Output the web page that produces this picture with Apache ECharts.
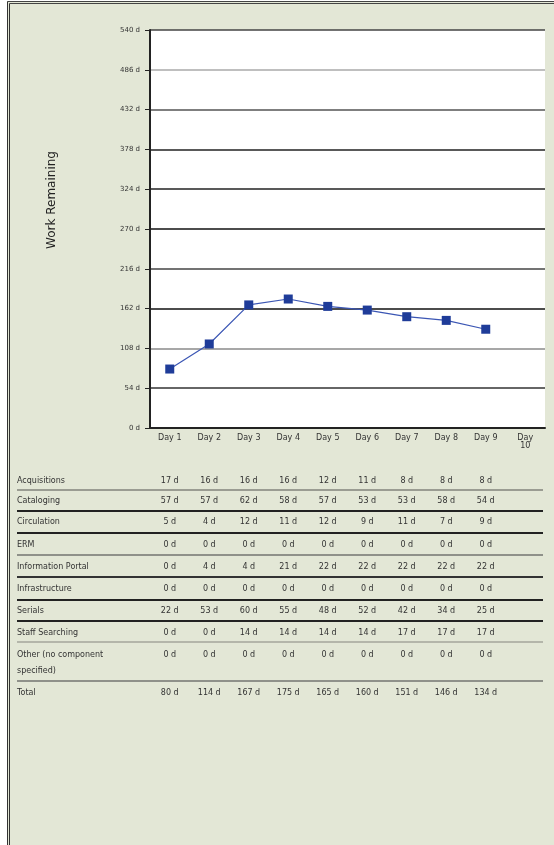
<!DOCTYPE html>
<html>
<head>
<meta charset="utf-8">
<script src="https://cdn.jsdelivr.net/npm/echarts@6/dist/echarts.min.js"></script>
<style>
  html, body { margin: 0; padding: 0; background: #fff; }
  #wrap { position: relative; width: 554px; height: 845px; overflow: hidden; }
  #frame {
    position: absolute; left: 7px; top: 1px; right: 0; bottom: 0;
    background: #e3e7d6;
    border-left: 3px double #333;
    border-top: 3px double #444;
  }
  #main { position: absolute; left: 0; top: 0; width: 554px; height: 845px; }
</style>
</head>
<body>
<div id="wrap">
  <div id="frame"></div>
  <div id="main"></div>
</div>
<script>
// burndown: work remaining per day + component table underneath
var days = ['Day 1', 'Day 2', 'Day 3', 'Day 4', 'Day 5', 'Day 6', 'Day 7', 'Day 8', 'Day 9', 'Day 10']
var yTicks = [0, 54, 108, 162, 216, 270, 324, 378, 432, 486, 540]

var acquisitions = [17, 16, 16, 16, 12, 11, 8, 8, 8]
var cataloging = [57, 57, 62, 58, 57, 53, 53, 58, 54]
var circulation = [5, 4, 12, 11, 12, 9, 11, 7, 9]
var erm = [0, 0, 0, 0, 0, 0, 0, 0, 0]
var infoPortal = [0, 4, 4, 21, 22, 22, 22, 22, 22]
var infrastructure = [0, 0, 0, 0, 0, 0, 0, 0, 0]
var serials = [22, 53, 60, 55, 48, 52, 42, 34, 25]
var staffSearching = [0, 0, 14, 14, 14, 14, 17, 17, 17]
var other = [0, 0, 0, 0, 0, 0, 0, 0, 0]
var total = [80, 114, 167, 175, 165, 160, 151, 146, 134]

var tableRows = [
  { name: 'Acquisitions', values: acquisitions },
  { name: 'Cataloging', values: cataloging },
  { name: 'Circulation', values: circulation },
  { name: 'ERM', values: erm },
  { name: 'Information Portal', values: infoPortal },
  { name: 'Infrastructure', values: infrastructure },
  { name: 'Serials', values: serials },
  { name: 'Staff Searching', values: staffSearching },
  { name: 'Other (no component specified)', values: other },
  { name: 'Total', values: total }
]

// row layout (text centre y, rule below, rule colour)
var rowLayout = [
  { y: 481, rule: 490, color: '#9a9c92' },
  { y: 501, rule: 511, color: '#222' },
  { y: 522, rule: 533, color: '#222' },
  { y: 545, rule: 555, color: '#8f918a' },
  { y: 567, rule: 577, color: '#333' },
  { y: 589, rule: 600, color: '#222' },
  { y: 611, rule: 621, color: '#222' },
  { y: 633, rule: 642, color: '#b4b6aa' },
  { y: 655, rule: 681, color: '#8f918a' },
  { y: 693, rule: null }
]

var chart = echarts.init(document.getElementById('main'))
var font = 'DejaVu Sans'

chart.setOption({
  backgroundColor: 'transparent',
  animation: false,
  grid: {
    left: 150, right: 9, top: 30, bottom: 417,
    show: true, backgroundColor: '#fff', borderWidth: 0
  },
  xAxis: {
    type: 'category',
    data: days,
    axisLine: { lineStyle: { color: '#222', width: 2 } },
    axisTick: { show: false },
    axisLabel: {
      color: '#333', fontSize: 8, fontFamily: font, margin: 6,
      formatter: function (v) { return v === 'Day 10' ? 'Day\n10' : v }
    }
  },
  yAxis: {
    type: 'value',
    min: 0, max: 540, interval: 54,
    name: 'Work Remaining',
    nameLocation: 'middle',
    nameGap: 92,
    nameTextStyle: { color: '#222', fontSize: 12, fontFamily: font, padding: [0, 0, 0, 58] },
    axisLine: { show: true, lineStyle: { color: '#222', width: 2 } },
    axisTick: { show: true, length: 5, lineStyle: { color: '#222' } },
    axisLabel: {
      color: '#333', fontSize: 7, fontFamily: font, margin: 10,
      formatter: function (v) { return yTicks.indexOf(v) >= 0 ? v + ' d' : '' }
    },
    splitLine: {
      lineStyle: {
        width: 1.6,
        color: ['#222', '#333', '#8a8a8a', '#111', '#444', '#111', '#222', '#222', '#555', '#aaa', '#444']
      }
    }
  },
  series: [{
    type: 'line',
    data: total.concat(['-']),
    symbol: 'rect',
    symbolSize: 9,
    itemStyle: { color: '#1f3c99' },
    lineStyle: { color: '#3b56b4', width: 1.2 }
  }]
})

// table drawn under the chart, columns taken from the x axis scale
var graphics = []
tableRows.forEach(function (row, i) {
  var lay = rowLayout[i]
  graphics.push({
    type: 'text', x: 17, y: lay.y - 8,
    style: {
      text: row.name, fill: '#333', font: '8px "' + font + '"',
      width: 112, overflow: 'break', lineHeight: 16, verticalAlign: 'top'
    }
  })
  row.values.forEach(function (v, j) {
    var x = chart.convertToPixel({ xAxisIndex: 0 }, days[j])
    graphics.push({
      type: 'text', x: x, y: lay.y,
      style: {
        text: v + ' d', fill: '#333', font: '8px "' + font + '"',
        align: 'center', verticalAlign: 'middle'
      }
    })
  })
  if (lay.rule) {
    graphics.push({
      type: 'line',
      shape: { x1: 17, y1: lay.rule, x2: 543, y2: lay.rule },
      style: { stroke: lay.color, lineWidth: 2 }
    })
  }
})
chart.setOption({ graphic: graphics })
</script>
</body>
</html>
